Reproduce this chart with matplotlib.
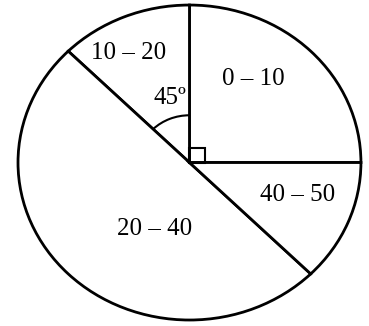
import numpy as np
import matplotlib.pyplot as plt
from matplotlib.patches import Arc, Rectangle

# class intervals and central angles (degrees)
classes = ['0 – 10', '10 – 20', '20 – 40', '40 – 50']
angles = [90, 45, 180, 45]
# where each label sits (radius fraction, angle in degrees)
label_pos = [(0.65, 55), (0.78, 117), (0.47, 244), (0.66, -18)]

fig = plt.figure(figsize=(3.69, 3.26), dpi=100)
ax = fig.add_axes([0, 0, 1, 1])

wedges, _ = ax.pie(angles, startangle=0, counterclock=True, radius=1,
                   colors=['white'] * len(angles),
                   wedgeprops=dict(edgecolor='black', linewidth=2.0))

# labels
for name, (r, a) in zip(classes, label_pos):
    t = np.deg2rad(a)
    ax.text(r * np.cos(t), r * np.sin(t), name, ha='center', va='center',
            fontsize=18, family='Liberation Serif')

# 45 degree mark on the 10-20 sector
start = angles[0]
ax.add_patch(Arc((0, 0), 0.6, 0.6, theta1=start, theta2=start + angles[1],
                 color='black', linewidth=1.5))
ax.text(-0.02, 0.41, '45º', ha='right', va='center', fontsize=18,
        family='Liberation Serif')

# right angle mark on the 0-10 sector
ax.add_patch(Rectangle((0, 0), 0.088, 0.095, fill=False, edgecolor='black',
                       linewidth=1.5))

ax.set_aspect('auto')
ax.set_xlim(-1.105, 1.047)
ax.set_ylim(-1.038, 1.032)
ax.axis('off')

fig.savefig('out.png', dpi=100, facecolor='white')
